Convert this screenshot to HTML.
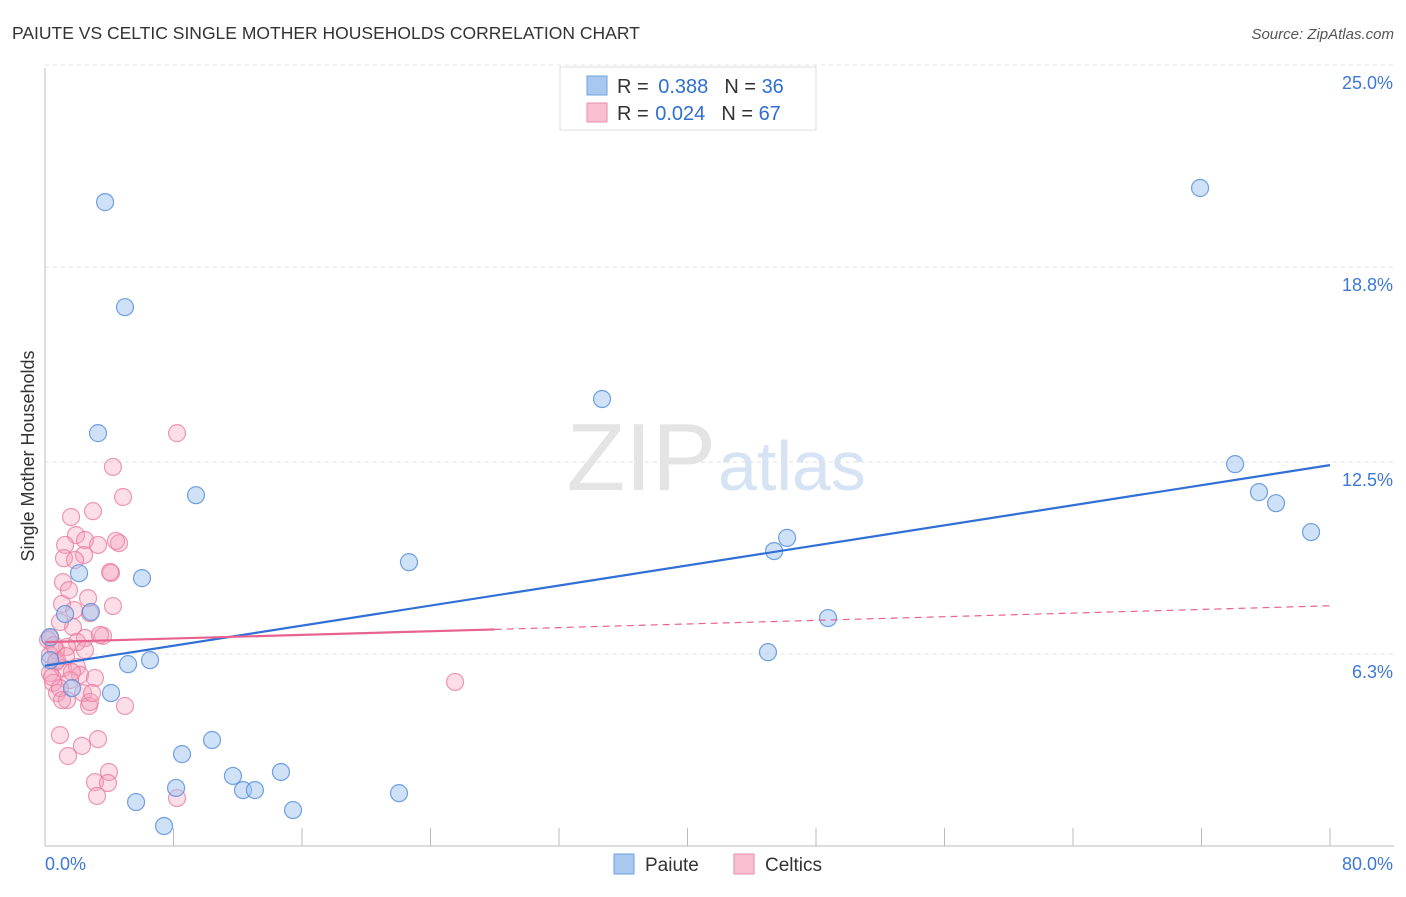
<!DOCTYPE html>
<html><head><meta charset="utf-8">
<style>
body{margin:0;background:#fff;font-family:"Liberation Sans",sans-serif;}
svg text{font-family:"Liberation Sans",sans-serif;}
</style></head>
<body>
<svg id="chart" width="1406" height="892" viewBox="0 0 1406 892" xmlns="http://www.w3.org/2000/svg">
<text x="12" y="39" font-size="17.5" fill="#333">PAIUTE VS CELTIC SINGLE MOTHER HOUSEHOLDS CORRELATION CHART</text>
<text x="1394" y="39" font-size="15" fill="#555" text-anchor="end" font-style="italic">Source: ZipAtlas.com</text>
<text x="716" y="490" font-size="96" fill="#e4e4e4" text-anchor="end" font-family="Liberation Serif">ZIP</text>
<text x="718" y="490" font-size="70" fill="#d6e3f4">atlas</text>
<text transform="translate(34,456) rotate(-90)" font-size="18" fill="#333" text-anchor="middle">Single Mother Households</text>
<g id="grid"></g>
<g id="axes"></g>
<g id="marks"></g>
<g id="lines"></g>
<g>
<rect x="560" y="67" width="256" height="63" fill="#fff" stroke="#ddd"/>
<rect x="587" y="76" width="20" height="19" fill="#a9c8f0" stroke="#6fa0e0"/>
<text x="617" y="93" font-size="20" fill="#333">R = <tspan fill="#2f6fd0" dx="4">0.388</tspan><tspan fill="#333" dx="16">N = </tspan><tspan fill="#2f6fd0">36</tspan></text>
<rect x="587" y="103" width="20" height="19" fill="#f7bfd0" stroke="#ea8eab"/>
<text x="617" y="120" font-size="20" fill="#333">R = <tspan fill="#2f6fd0" dx="1">0.024</tspan><tspan fill="#333" dx="16">N = </tspan><tspan fill="#2f6fd0">67</tspan></text>
</g>
<g>
<rect x="614" y="854" width="20" height="20" fill="#a9c8f0" stroke="#6fa0e0"/>
<text x="645" y="871" font-size="19" fill="#333">Paiute</text>
<rect x="734" y="854" width="20" height="20" fill="#f7bfd0" stroke="#ea8eab"/>
<text x="765" y="871" font-size="19" fill="#333">Celtics</text>
</g>
</svg>
<script>
const yTicks=[6.25,12.5,18.75,25];
const yTickLabels=["6.3%","12.5%","18.8%","25.0%"];
const xLabels=["0.0%","80.0%"];
const paiuteX=[3.74,4.98,3.30,9.40,2.12,6.04,1.25,2.86,0.31,5.17,6.54,1.68,4.11,8.53,10.40,8.16,11.70,12.33,13.07,14.69,5.67,7.41,15.44,22.04,22.66,34.68,45.39,46.20,48.75,45.01,71.91,74.09,75.58,76.64,78.82,0.31];
const paiuteY=[20.96,17.54,13.44,11.42,8.88,8.72,7.55,7.62,6.80,5.92,6.05,5.14,4.98,2.99,3.45,1.89,2.28,1.82,1.82,2.41,1.43,0.65,1.17,1.72,9.24,14.55,9.60,10.03,7.42,6.31,21.42,12.43,11.52,11.16,10.22,6.05];
const celticX=[8.22,4.23,4.86,2.99,1.62,1.93,2.49,3.30,4.61,1.25,1.18,2.43,1.87,4.11,1.12,1.49,1.06,4.23,2.80,1.74,3.61,2.49,1.99,1.37,0.31,0.75,0.31,1.12,1.99,2.18,3.11,0.50,1.56,0.75,1.37,2.37,2.74,4.98,0.93,3.30,2.30,1.43,3.98,3.11,3.92,3.24,8.22,25.53,2.80,4.42,4.05,3.42,0.93,0.68,0.31,0.68,0.44,0.93,1.68,2.49,2.93,1.06,0.19,0.56,1.31,1.81,2.68];
const celticY=[13.44,12.34,11.36,10.90,10.71,10.12,9.96,9.80,9.86,9.80,9.37,9.47,9.31,8.89,8.59,8.33,7.88,7.81,7.58,7.13,6.84,6.77,6.64,6.48,6.77,6.05,5.63,5.79,5.83,5.57,5.47,5.31,5.40,4.98,4.75,4.98,4.56,4.56,3.61,3.48,3.26,2.93,2.41,2.08,2.05,1.63,1.56,5.34,4.69,9.93,8.92,6.87,7.29,6.38,6.22,5.99,5.50,5.14,5.66,6.38,4.98,4.75,6.71,6.54,6.18,7.68,8.07];
const celticSolidEnd=[28];

const NS="http://www.w3.org/2000/svg";
const X0=45,X1=1330,Y0=846,PX=30.72;
const sx=v=>X0+(v/80)*(X1-X0);
const sy=v=>Y0-v*PX;
function mk(tag,attrs,parent){const e=document.createElementNS(NS,tag);for(const k in attrs)e.setAttribute(k,attrs[k]);parent.appendChild(e);return e;}
const grid=document.getElementById('grid'),axes=document.getElementById('axes'),marks=document.getElementById('marks'),lines=document.getElementById('lines');
yTicks.forEach((t,i)=>{
 const gy=sy(t)-(i==3?13:0)-(i==2?3:0);
 const l=mk('line',{x1:X0,x2:1394,y1:gy,y2:gy,stroke:'#e2e2e2','stroke-dasharray':'4,4'},grid);
 
 
 const tx=mk('text',{x:1393,y:gy+24,'font-size':18,fill:'#3c78d8','text-anchor':'end'},axes);
 tx.textContent=yTickLabels[i];
 
 
});
const ax=mk('line',{x1:X0,x2:1394,y1:Y0,y2:Y0,stroke:'#bbb'},axes);


const ay=mk('line',{x1:X0,x2:X0,y1:68,y2:Y0,stroke:'#bbb'},axes);


for(let i=1;i<=10;i++){const t=mk('line',{x1:sx(i*8),x2:sx(i*8),y1:Y0,y2:Y0-18,stroke:'#bbb'},axes);
 
 }
const xl0=mk('text',{x:45,y:870,'font-size':18,fill:'#3c78d8'},axes);xl0.textContent=xLabels[0];


const xl1=mk('text',{x:1393,y:870,'font-size':18,fill:'#3c78d8','text-anchor':'end'},axes);xl1.textContent=xLabels[1];



celticX.forEach((x,i)=>{const c=mk('circle',{cx:sx(x),cy:sy(celticY[i]),r:8.5,fill:'rgba(244,160,188,0.35)',stroke:'rgba(232,120,155,0.75)','stroke-width':1.2},marks);
 
 });
paiuteX.forEach((x,i)=>{const c=mk('circle',{cx:sx(x),cy:sy(paiuteY[i]),r:8.5,fill:'rgba(160,196,240,0.5)',stroke:'rgba(90,145,220,0.85)','stroke-width':1.2},marks);
 
 });

function fit(xs,ys){const n=xs.length;let mx=0,my=0;for(let i=0;i<n;i++){mx+=xs[i];my+=ys[i];}mx/=n;my/=n;let sxy=0,sxx=0;for(let i=0;i<n;i++){sxy+=(xs[i]-mx)*(ys[i]-my);sxx+=(xs[i]-mx)**2;}const b=sxy/sxx;return [my-b*mx,b];}
const [pa,pb]=fit(paiuteX,paiuteY);
const bl=mk('line',{x1:sx(0),y1:sy(pa),x2:sx(80),y2:sy(pa+pb*80),stroke:'#2f6fd6','stroke-width':2.2},lines);


const [ca,cb]=fit(celticX,celticY);
const cmax=Math.max(Math.max(...celticX),celticSolidEnd[0]);
const cl=mk('line',{x1:sx(0),y1:sy(ca),x2:sx(cmax),y2:sy(ca+cb*cmax),stroke:'#e8628e','stroke-width':2.2},lines);


const cd=mk('line',{x1:sx(cmax),y1:sy(ca+cb*cmax),x2:sx(80),y2:sy(ca+cb*80),stroke:'#e8628e','stroke-width':1.2,'stroke-dasharray':'7,5'},lines);


</script>
</body></html>
